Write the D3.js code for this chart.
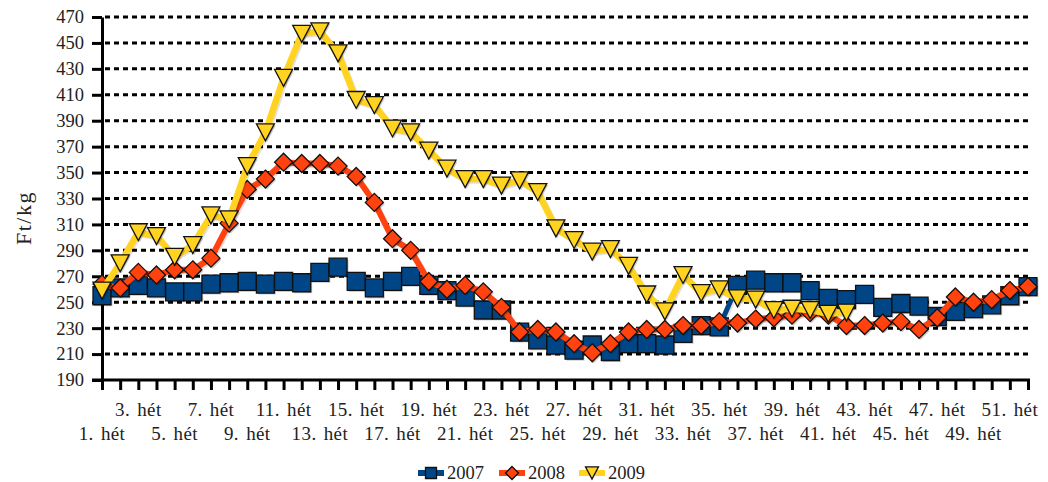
<!DOCTYPE html>
<html>
<head>
<meta charset="utf-8">
<script src="https://cdn.jsdelivr.net/npm/d3@7"></script>
<style>
  html, body { margin: 0; padding: 0; background: #fff; }
  #chart { width: 1048px; height: 482px; }
  text { font-family: "Liberation Serif", "DejaVu Serif", serif; fill: #222; }
</style>
</head>
<body>
<div id="chart"></div>
<script>
// weeks 1..52
const WEEKS = d3.range(1, 53);
const Y_TICKS = d3.range(190, 471, 20);

const S2007 = [255, 261, 263, 261, 258, 258, 264, 265, 266, 264, 266, 265, 273, 277, 266, 261,
  266, 270, 263, 259, 254, 244, 244, 227, 221, 217, 213, 217, 212, 218, 218, 217, 226, 232,
  231, 263, 267, 265, 265, 259, 253, 252, 256, 246, 249, 247, 239, 243, 245, 248, 255, 262];

const S2008 = [264, 261, 273, 271, 275, 275, 284, 311, 337, 345, 358, 357, 357, 355, 347, 327,
  299, 290, 266, 260, 263, 258, 246, 227, 229, 227, 218, 211, 218, 227, 229, 229, 232, 232,
  235, 234, 237, 238, 240, 242, 240, 232, 232, 234, 235, 229, 238, 254, 250, 252, 259, 262];

// 2009 only runs to week 42
const S2009 = [259, 280, 304, 301, 285, 294, 317, 314, 355, 381, 423, 457, 459, 442, 406, 402,
  384, 381, 367, 353, 345, 345, 340, 344, 335, 307, 298, 289, 291, 278, 256, 243, 271, 257,
  260, 253, 252, 244, 245, 244, 241, 242];

const SERIES = [
  { name: "2007", values: S2007, color: "#004586", lineWidth: 5, shape: "square" },
  { name: "2008", values: S2008, color: "#ff420e", lineWidth: 6, shape: "diamond" },
  { name: "2009", values: S2009, color: "#ffd320", lineWidth: 6.5, shape: "triangle" }
];

function markerPath(shape, s) {
  const h = s / 2;
  if (shape === "square") return `M${-h},${-h}H${h}V${h}H${-h}Z`;
  if (shape === "diamond") return `M0,${-h}L${h},0L0,${h}L${-h},0Z`;
  return `M${-h},${-h * 0.94}L${h},${-h * 0.94}L0,${h * 0.94}Z`;
}

const width = 1048, height = 482;
const m = { top: 17, right: 20, bottom: 102, left: 102 };

const svg = d3.select("#chart").append("svg")
  .attr("width", width)
  .attr("height", height);

const x = d3.scalePoint()
  .domain(WEEKS)
  .range([m.left, 1028]);

const y = d3.scaleLinear()
  .domain([190, 470])
  .range([height - m.bottom, m.top]);

// ----- grid -----
svg.append("g")
  .selectAll("line")
  .data(Y_TICKS.filter(d => d > 190))
  .enter().append("line")
  .attr("x1", m.left + 3)
  .attr("x2", 1030)
  .attr("y1", d => y(d))
  .attr("y2", d => y(d))
  .attr("stroke", "#000")
  .attr("stroke-width", 3)
  .attr("stroke-dasharray", "5,4");

// ----- Y axis -----
const yAxis = svg.append("g")
  .attr("transform", `translate(${m.left},0)`)
  .attr("font-family", "Liberation Serif, serif")
  .call(d3.axisLeft(y).tickValues(Y_TICKS).tickSize(10).tickSizeOuter(0).tickPadding(8));

yAxis.select(".domain").attr("stroke", "#000").attr("stroke-width", 3);
yAxis.selectAll(".tick line").attr("stroke", "#000").attr("stroke-width", 3);
yAxis.selectAll(".tick text")
  .attr("font-size", 18.5)
  .attr("fill", "#222");

// ----- X axis -----
const xAxis = svg.append("g")
  .attr("transform", `translate(0,${y(190)})`)
  .call(d3.axisBottom(x).tickSize(10).tickSizeOuter(0).tickFormat(""));

xAxis.select(".domain").attr("stroke", "#000").attr("stroke-width", 3)
  .attr("d", `M${m.left - 10},0H${1030}`);
xAxis.selectAll(".tick line").attr("stroke", "#000").attr("stroke-width", 3);

// labels every second week, alternating rows
svg.append("g")
  .selectAll("text")
  .data(WEEKS.filter(w => w % 2 === 1))
  .enter().append("text")
  .attr("x", d => x(d))
  .attr("y", (d, i) => i % 2 === 0 ? 440 : 416)
  .attr("text-anchor", "middle")
  .attr("font-size", 19)
  .attr("letter-spacing", 0.4)
  .attr("word-spacing", 2)
  .text(d => `${d}. hét`);

// axis title
svg.append("text")
  .attr("transform", `translate(31,218) rotate(-90)`)
  .attr("text-anchor", "middle")
  .attr("font-size", 22)
  .attr("letter-spacing", 1.5)
  .text("Ft/kg");

// ----- series -----
const line = d3.line()
  .x((d, i) => x(WEEKS[i]))
  .y(d => y(d));

const plot = svg.append("g");

SERIES.forEach(s => {
  const g = plot.append("g");

  g.append("path")
    .datum(s.values)
    .attr("fill", "none")
    .attr("stroke", "#000")
    .attr("stroke-opacity", 0.12)
    .attr("stroke-width", s.lineWidth)
    .attr("stroke-linejoin", "round")
    .attr("transform", "translate(1.5,1.5)")
    .attr("d", line);

  g.append("path")
    .datum(s.values)
    .attr("fill", "none")
    .attr("stroke", s.color)
    .attr("stroke-width", s.lineWidth)
    .attr("stroke-linejoin", "round")
    .attr("d", line);

  const pts = g.selectAll(null)
    .data(s.values)
    .enter().append("g")
    .attr("transform", (d, i) => `translate(${x(WEEKS[i])},${y(d)})`);

  pts.append("path")
    .attr("d", markerPath(s.shape, 18))
    .attr("transform", "translate(1.5,1.5)")
    .attr("fill", "#000")
    .attr("fill-opacity", 0.2);

  pts.append("path")
    .attr("d", markerPath(s.shape, 18))
    .attr("fill", s.color)
    .attr("stroke", "#111")
    .attr("stroke-width", 1.3);
});

// ----- legend -----
const legendPos = [431, 512, 592];
const legend = svg.append("g").attr("transform", "translate(0,473)");

SERIES.forEach((s, i) => {
  const cx = legendPos[i];
  const item = legend.append("g");
  item.append("line")
    .attr("x1", cx - 13).attr("x2", cx + 13)
    .attr("stroke", s.color)
    .attr("stroke-width", 6);
  item.append("path")
    .attr("d", markerPath(s.shape, s.shape === "square" ? 11 : 13))
    .attr("transform", `translate(${cx},0)`)
    .attr("fill", s.color)
    .attr("stroke", "#111")
    .attr("stroke-width", 1.3);
  item.append("text")
    .attr("x", cx + 16)
    .attr("y", 6)
    .attr("font-size", 18.5)
    .text(s.name);
});
</script>
</body>
</html>
